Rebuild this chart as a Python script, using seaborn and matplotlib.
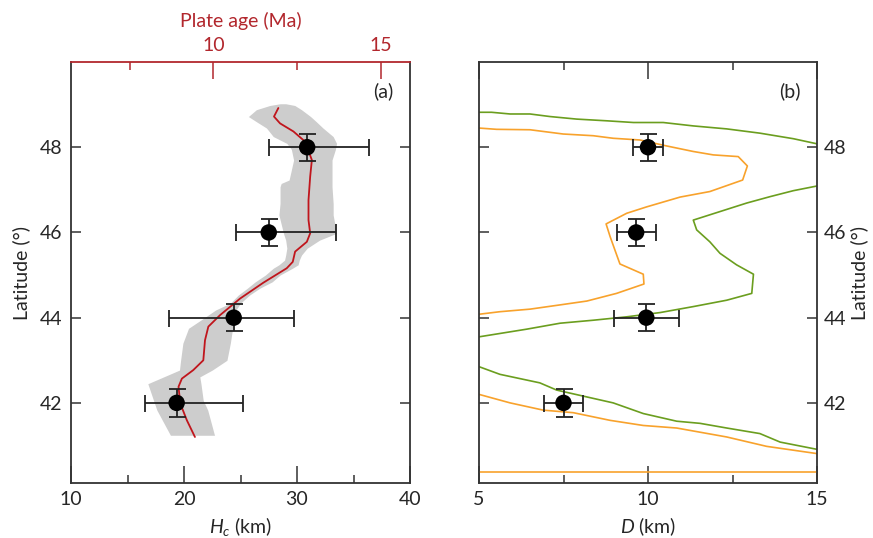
import numpy as np
import pandas as pd
import matplotlib
matplotlib.use("Agg")
import matplotlib.pyplot as plt
import seaborn as sns

# ---------------- data ----------------
# panel (a): observed Hc with asymmetric errors
lat_obs = [48.0, 46.0, 44.0, 42.0]
hc_obs = [30.9, 27.5, 24.4, 19.35]
hc_err_lo = [3.35, 2.9, 5.7, 2.8]
hc_err_hi = [5.5, 5.95, 5.3, 5.9]
lat_err = [0.32, 0.32, 0.32, 0.32]

# grey band (Hc range) vs latitude
band_lat = [41.24, 41.83, 42.06, 42.45, 42.61, 42.77, 43.00, 43.40, 43.75, 43.98,
            44.18, 44.34, 44.53, 44.69, 44.84, 45.00, 45.16, 45.24, 45.35, 45.47,
            45.63, 45.82, 45.98, 46.41, 46.68, 47.07, 47.15, 47.23, 47.70, 47.95,
            48.09, 48.25, 48.45, 48.60, 48.72, 48.88, 48.98, 49.02]
band_left = [18.8, 17.6, 17.3, 16.8, 18.2, 19.6, 19.7, 19.9, 20.4, 21.7,
             22.8, 24.1, 24.8, 25.6, 26.3, 27.2, 27.9, 28.4, 28.9, 29.0,
             29.1, 29.0, 28.8, 28.4, 28.5, 28.5, 28.6, 29.3, 29.7, 29.5,
             29.1, 27.9, 27.3, 26.4, 25.7, 26.4, 27.6, 28.5]
band_right = [22.7, 22.1, 21.7, 21.5, 21.4, 22.5, 23.8, 24.1, 24.3, 24.4,
              24.6, 25.0, 25.8, 26.7, 27.8, 28.5, 29.6, 30.1, 30.2, 30.4,
              30.9, 32.0, 33.5, 33.2, 33.2, 33.1, 33.1, 33.1, 33.1, 33.4,
              33.5, 33.2, 32.3, 31.7, 31.2, 30.4, 29.8, 29.0]

# red line: plate age (Ma) vs latitude
age_lat = [48.92, 48.72, 48.56, 48.37, 48.13, 47.70, 47.31, 46.76, 46.29, 45.98,
           45.78, 45.55, 45.31, 45.16, 44.82, 44.45, 44.06, 43.79, 43.47, 43.00,
           42.77, 42.57, 42.38, 41.99, 41.59, 41.20]
age_val = [11.94, 11.81, 11.99, 12.39, 12.74, 12.94, 12.89, 12.84, 12.84, 12.89,
           12.79, 12.44, 12.37, 12.19, 11.49, 10.80, 10.20, 9.85, 9.75, 9.70,
           9.40, 9.06, 8.96, 9.01, 9.21, 9.45]

# panel (b): observed D
d_lat = [48.0, 46.0, 44.0, 42.0]
d_obs = [10.0, 9.65, 9.95, 7.5]
d_err = [0.45, 0.58, 0.97, 0.58]
d_lat_err = [0.32, 0.32, 0.32, 0.32]

# contour lines in panel (b)
green1_d = [5.0, 5.37, 5.92, 6.51, 7.1, 7.89, 8.78, 9.57, 10.45, 11.34, 12.33, 13.31, 14.30, 15.0]
green1_lat = [48.82, 48.82, 48.78, 48.78, 48.72, 48.66, 48.62, 48.58, 48.58, 48.50, 48.43, 48.33, 48.20, 48.08]

orange1_d = [5.0, 5.52, 6.51, 7.49, 8.38, 8.97, 9.76, 10.55, 11.34, 11.93, 12.67, 12.94, 12.80,
             11.83, 10.95, 9.96, 9.37, 8.76, 8.88, 9.02, 9.17, 9.86, 9.88, 9.07, 8.19, 7.40,
             6.51, 5.62, 5.0]
orange1_lat = [48.45, 48.42, 48.41, 48.31, 48.27, 48.21, 48.17, 48.03, 47.90, 47.82, 47.78, 47.56, 47.23,
               46.96, 46.83, 46.60, 46.45, 46.20, 45.90, 45.59, 45.26, 45.02, 44.79, 44.57, 44.39, 44.30,
               44.20, 44.14, 44.08]

green2_d = [15.0, 14.30, 13.61, 12.92, 12.13, 11.34, 11.44, 11.83, 12.13, 12.62, 13.12, 13.07,
            12.33, 11.34, 10.36, 9.37, 8.38, 7.40, 6.41, 5.0]
green2_lat = [47.09, 46.98, 46.84, 46.69, 46.49, 46.29, 46.06, 45.78, 45.51, 45.24, 45.02, 44.57,
              44.41, 44.26, 44.12, 44.02, 43.94, 43.87, 43.73, 43.55]

green3_d = [5.0, 5.62, 6.80, 7.30, 8.19, 8.97, 9.86, 10.85, 11.54, 12.33, 13.31, 13.91, 15.0]
green3_lat = [42.85, 42.67, 42.47, 42.30, 42.14, 42.00, 41.75, 41.57, 41.52, 41.41, 41.28, 41.08, 40.91]

orange2_d = [5.0, 5.92, 6.90, 7.79, 8.88, 9.86, 10.85, 12.33, 13.51, 15.0]
orange2_lat = [42.20, 42.00, 41.83, 41.77, 41.59, 41.47, 41.41, 41.20, 40.98, 40.81]

orange3_d = [5.0, 15.0]
orange3_lat = [40.38, 40.38]

# ---------------- style ----------------
sns.set_theme(style="ticks")
plt.rcParams["font.family"] = ["Lato", "DejaVu Sans"]
plt.rcParams["mathtext.fontset"] = "custom"
plt.rcParams["mathtext.rm"] = "Lato"
plt.rcParams["mathtext.it"] = "Lato:italic"

RED = "#b2272d"
REDLINE = "#c0151c"
ORANGE = "#f8a22c"
GREEN = "#6b9e1f"
GREY = "#cdcdcd"
SPINE = "#333333"
FS = 14

fig = plt.figure(figsize=(8.73, 5.38), dpi=100)
W, H = 873, 538
axL = fig.add_axes([71 / W, 55 / H, 339 / W, 421 / H])
axR = fig.add_axes([479 / W, 55 / H, 338 / W, 421 / H])
YLIM = (40.12, 50.0)
DOT = 140

# ---------- panel (a) ----------
axL.fill_betweenx(band_lat, band_left, band_right, color=GREY, lw=0)
axL.set_xlim(10, 40)
axL.set_ylim(*YLIM)

axT = axL.twiny()
axT.set_xlim(5.75, 15.87)
sns.lineplot(x=age_val, y=age_lat, sort=False, estimator=None, ax=axT,
             color=REDLINE, lw=1.3)
axT.set_ylim(*YLIM)

axP = axL.twiny()
axP.set_xlim(10, 40)
axP.set_ylim(*YLIM)
axP.errorbar(hc_obs, lat_obs, xerr=[hc_err_lo, hc_err_hi], yerr=lat_err,
             fmt="none", ecolor="#222222", elinewidth=1.3, capsize=8.5 * 0.72,
             capthick=1.3, zorder=3)
sns.scatterplot(x=hc_obs, y=lat_obs, ax=axP, color="black", s=DOT,
                edgecolor="none", zorder=4)
axP.axis("off")

# ticks for panel (a)
axL.set_xticks([10, 20, 30, 40])
axL.set_xticks([15, 25, 35], minor=True)
axL.set_yticks([42, 44, 46, 48])
axL.tick_params(axis="x", which="major", direction="in", length=12.5, width=1.1,
                color=SPINE, labelsize=FS, pad=6, top=False)
axL.tick_params(axis="x", which="minor", direction="in", length=6, width=1.1,
                color=SPINE, top=False)
axL.tick_params(axis="y", which="major", direction="in", length=7, width=1.1,
                color=SPINE, labelsize=FS, left=True, right=True, pad=6)
axL.set_xlabel(r"$H_c$ (km)", fontsize=FS, labelpad=5)
axL.set_ylabel("Latitude (°)", fontsize=FS, labelpad=7)
for s in ["left", "right", "bottom"]:
    axL.spines[s].set_color(SPINE)
    axL.spines[s].set_linewidth(1.3)
axL.spines["top"].set_visible(False)

axT.set_xticks([10, 15])
axT.set_xticks([7.5, 12.5], minor=True)
axT.tick_params(axis="x", which="major", direction="in", length=12.5, width=1.1,
                color=RED, labelcolor=RED, labelsize=FS, pad=6)
axT.tick_params(axis="x", which="minor", direction="in", length=6, width=1.1,
                color=RED)
axT.tick_params(axis="y", left=False, right=False, labelleft=False, labelright=False)
axT.set_xlabel("Plate age (Ma)", color=RED, fontsize=FS, labelpad=7)
axT.set_ylabel("")
for s in ["left", "right", "bottom"]:
    axT.spines[s].set_visible(False)
axT.spines["top"].set_color(RED)
axT.spines["top"].set_linewidth(1.3)

axL.text(0.92, 0.93, "(a)", transform=axL.transAxes, fontsize=FS,
         ha="center", va="center")

# ---------- panel (b) ----------
for dx, dy, col in [(green1_d, green1_lat, GREEN), (orange1_d, orange1_lat, ORANGE),
                    (green2_d, green2_lat, GREEN), (green3_d, green3_lat, GREEN),
                    (orange2_d, orange2_lat, ORANGE), (orange3_d, orange3_lat, ORANGE)]:
    sns.lineplot(x=dx, y=dy, sort=False, estimator=None, ax=axR, color=col, lw=1.2)

axR.errorbar(d_obs, d_lat, xerr=d_err, yerr=d_lat_err, fmt="none",
             ecolor="#222222", elinewidth=1.3, capsize=8.5 * 0.72, capthick=1.3,
             zorder=3)
sns.scatterplot(x=d_obs, y=d_lat, ax=axR, color="black", s=DOT,
                edgecolor="none", zorder=4)
axR.set_xlim(5, 15)
axR.set_ylim(*YLIM)
axR.set_xticks([5, 10, 15])
axR.set_xticks([7.5, 12.5], minor=True)
axR.set_yticks([42, 44, 46, 48])
axR.tick_params(axis="x", which="major", direction="in", length=12, width=1.1,
                color=SPINE, labelsize=FS, pad=6, top=True)
axR.tick_params(axis="x", which="minor", direction="in", length=6, width=1.1,
                color=SPINE, top=True)
axR.tick_params(axis="y", which="major", direction="in", length=7.5, width=1.1,
                color=SPINE, labelsize=FS, left=True, right=True,
                labelleft=False, labelright=True, pad=5)
axR.yaxis.set_label_position("right")
axR.set_xlabel(r"$D$ (km)", fontsize=FS, labelpad=5)
axR.set_ylabel("Latitude (°)", fontsize=FS, labelpad=3)
for s in ["left", "right", "bottom", "top"]:
    axR.spines[s].set_color(SPINE)
    axR.spines[s].set_linewidth(1.3)
axR.text(0.92, 0.93, "(b)", transform=axR.transAxes, fontsize=FS,
         ha="center", va="center")

fig.savefig("out.png", dpi=100)
